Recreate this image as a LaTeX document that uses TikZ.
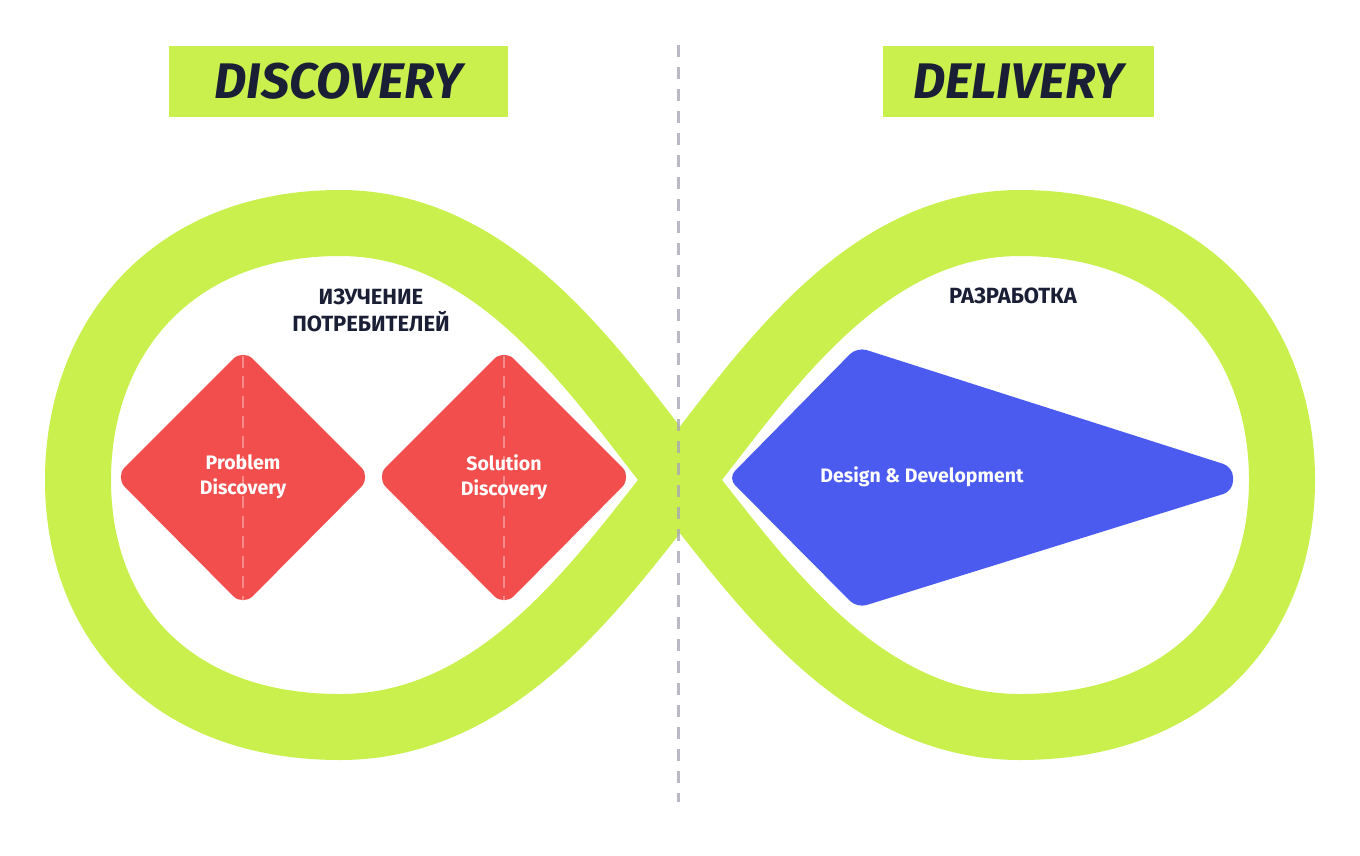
\documentclass[tikz,border=0pt]{standalone}
\usepackage{fontspec}
\setmainfont{Fira Sans}
\definecolor{lime}{HTML}{C9F04C}
\definecolor{redd}{HTML}{F24E4E}
\definecolor{pinkd}{HTML}{F98A8A}
\definecolor{bluep}{HTML}{4B5BF0}
\definecolor{navy}{HTML}{1A1F36}
\definecolor{dashgray}{HTML}{A8A8B4}
\begin{document}
\begin{tikzpicture}[x=1pt,y=-1pt,
  hdr/.style={fill=lime,inner sep=0pt,minimum height=71pt,font=\fontsize{50}{54}\selectfont\bfseries\itshape,text=navy},
  lbl/.style={font=\fontsize{22}{27}\selectfont\bfseries,text=navy,align=center},
  wl/.style={font=\fontsize{19.5}{25}\selectfont\bfseries,text=white,align=center},
  dia/.style={fill=redd,rounded corners=14pt}]
\useasboundingbox (0,0) rectangle (1360,855);
\draw[lime,line width=66pt]
 (680,480) .. controls (600,380) and (500,223) .. (340,223)
 .. controls (170,223) and (78,340) .. (78,480)
 .. controls (78,620) and (170,727) .. (340,727)
 .. controls (500,727) and (600,580) .. (680,480)
 .. controls (760,380) and (860,223) .. (1020,223)
 .. controls (1190,223) and (1282,340) .. (1282,480)
 .. controls (1282,620) and (1190,727) .. (1020,727)
 .. controls (860,727) and (760,580) .. (680,480) -- cycle;
\node[hdr,minimum width=339pt] (h1) at (338.5,81.5) {DISCOVERY};
\node[hdr,minimum width=271pt] (h2) at (1018.5,81.5) {DELIVERY};
\fill[dia] (115,477) -- (243,349) -- (371,477) -- (243,606) -- cycle;
\fill[dia] (376,477) -- (504,349) -- (632,477) -- (504,606) -- cycle;
\draw[pinkd,line width=2.5pt,dash pattern=on 12pt off 8pt] (243,356) -- (243,600);
\draw[pinkd,line width=2.5pt,dash pattern=on 12pt off 8pt] (504,356) -- (504,600);
\fill[bluep,rounded corners=10pt] (857,347) -- (1233,467) -- (1233,491) -- (857,608) -- (728,478) -- cycle;
\node[wl] (p) at (243,477) {Problem\\Discovery};
\node[wl] (s) at (504,477) {Solution\\Discovery};
\node[wl] (d) at (922,477) {Design \& Development};
\node[lbl] (l1) at (371,310) {ИЗУЧЕНИЕ\\ПОТРЕБИТЕЛЕЙ};
\node[lbl] (l2) at (1013,296) {РАЗРАБОТКА};
\draw[dashgray,opacity=0.8,line width=3pt,dash pattern=on 12pt off 10pt] (678,45) -- (678,802);
\end{tikzpicture}
\end{document}
